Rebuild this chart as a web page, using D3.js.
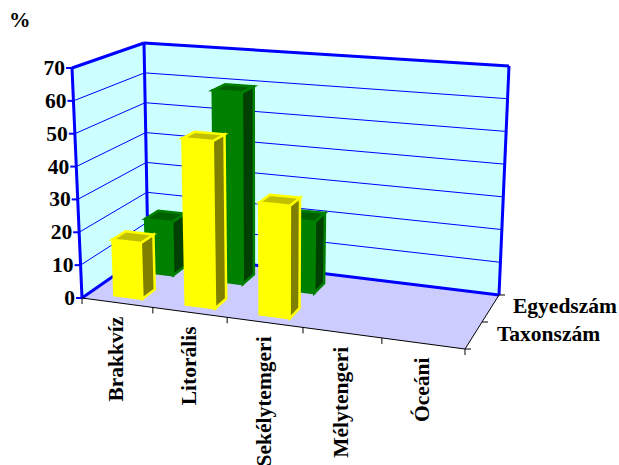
<!DOCTYPE html>
<html>
<head>
<meta charset="utf-8">
<script src="https://cdnjs.cloudflare.com/ajax/libs/d3/7.8.5/d3.min.js"></script>
<style>
html,body{margin:0;padding:0;background:#fff}
svg{display:block}
text{font-family:"Liberation Serif",serif;font-weight:bold;fill:#000}
</style>
</head>
<body>
<svg id="chart" width="619" height="465"></svg>
<script>
// Habitat share of taxa and individuals, drawn as a 3D column chart
const categories = ["Brakkvíz", "Litorális", "Sekélytemgeri", "Mélytengeri", "Óceáni"];
const seriesNames = ["Taxonszám", "Egyedszám"];
const taxonValues = [17, 50, 33, 0, 0];
const egyedValues = [17, 60, 22, 0, 0];
const valueTicks = [0, 10, 20, 30, 40, 50, 60, 70];

// Box corners on screen: [front/back][left/right][bottom/top]
const box = {
  flb: [82, 298], flt: [72, 68],
  frb: [465, 349], frt: [474, 97],
  blb: [148, 252], blt: [144, 43],
  brb: [499, 295], brt: [509, 66]
};

// Category spacing widens slightly towards the viewer's right
const uScale = d3.scaleLinear().domain([0, 1, 2, 3, 4, 5]).range([0, 0.185, 0.379, 0.577, 0.783, 1]);
const vScale = d3.scaleLinear().domain([0, 2]).range([0, 1]);
const hScale = d3.scaleLinear().domain([0, 70]).range([0, 1]);

const lerp = (a, b, t) => [a[0] + (b[0] - a[0]) * t, a[1] + (b[1] - a[1]) * t];
function project(cat, depth, value) {
  const u = uScale(cat), v = vScale(depth), h = hScale(value);
  const bottom = lerp(lerp(box.flb, box.frb, u), lerp(box.blb, box.brb, u), v);
  const top = lerp(lerp(box.flt, box.frt, u), lerp(box.blt, box.brt, u), v);
  return lerp(bottom, top, h);
}

const svg = d3.select("#chart");
const path = d3.line();
const poly = (g, pts, fill, stroke, w) => g.append("path")
  .attr("d", path(pts) + "Z").attr("fill", fill)
  .attr("stroke", stroke || "none").attr("stroke-width", w || 0)
  .attr("stroke-linejoin", "miter");
const seg = (g, a, b, stroke, w) => g.append("line")
  .attr("x1", a[0]).attr("y1", a[1]).attr("x2", b[0]).attr("y2", b[1])
  .attr("stroke", stroke).attr("stroke-width", w);

const BLUE = "#0000ff";
const walls = svg.append("g");
poly(walls, [box.blb, box.blt, box.brt, box.brb], "#ccffff");
poly(walls, [box.flb, box.flt, box.blt, box.blb], "#ccffff");
poly(walls, [box.flb, box.frb, box.brb, box.blb], "#ccccff");

// Value gridlines run along the left wall and the back wall
valueTicks.slice(1, -1).forEach(t => {
  seg(walls, project(0, 0, t), project(0, 2, t), BLUE, 1);
  seg(walls, project(0, 2, t), project(5, 2, t), BLUE, 1);
});

// Wall frame
const frame = [[box.flb, box.flt], [box.flt, box.blt], [box.blt, box.brt], [box.brt, box.brb],
  [box.brb, box.blb], [box.blb, box.blt], [box.blb, box.flb]];
frame.forEach(([a, b]) => seg(walls, a, b, BLUE, 3));

// Floor edges and ticks
const axes = svg.append("g");
seg(axes, box.flb, box.frb, "#000", 1);
seg(axes, box.frb, box.brb, "#000", 1);
d3.range(0, 6).forEach(i => {
  const p = project(i, 0, 0);
  seg(axes, p, [p[0], p[1] + 6], "#000", 1);
});
d3.range(0, 3).forEach(i => {
  const p = project(5, i, 0);
  seg(axes, p, [p[0] + 6, p[1]], "#000", 1);
});
valueTicks.forEach(t => {
  const p = project(0, 0, t);
  seg(axes, [p[0] - 6, p[1]], p, BLUE, 2);
});

// Columns: back row first so the front row overlaps it
const BAR_LO = 0.34, BAR_HI = 0.74;
function column(g, cat, row, value, c) {
  const d0 = row + 0.26, d1 = row + 0.66;
  const x0 = cat + BAR_LO, x1 = cat + BAR_HI;
  const A = project(x0, d0, 0), B = project(x1, d0, 0), C = project(x1, d1, 0);
  const E = project(x0, d0, value), F = project(x1, d0, value), G = project(x1, d1, value), H = project(x0, d1, value);
  poly(g, [A, B, F, E], c.front, c.front, 2.5);
  poly(g, [B, C, G, F], c.side, c.front, 2.5);
  poly(g, [E, F, G, H], c.top, c.front, 2.5);
}
const palettes = [
  { front: "#ffff00", side: "#808000", top: "#c0c000" },
  { front: "#008000", side: "#004000", top: "#006000" }
];
const bars = svg.append("g");
egyedValues.forEach((v, i) => { if (v > 0) column(bars, i, 1, v, palettes[1]); });
taxonValues.forEach((v, i) => { if (v > 0) column(bars, i, 0, v, palettes[0]); });

// Text
const FONT = 21.5;
const labels = svg.append("g");
valueTicks.forEach(t => {
  const p = project(0, 0, t);
  labels.append("text").attr("x", p[0] - 7).attr("y", p[1] + 7)
    .attr("text-anchor", "end").attr("font-size", FONT).text(t);
});
labels.append("text").attr("x", 9).attr("y", 27).attr("font-size", FONT).text("%");

categories.forEach((name, i) => {
  const p = project(i + 0.5, 0, 0);
  const x = p[0] + 6, y = p[1] + 14;
  labels.append("text")
    .attr("transform", `translate(${x},${y}) rotate(-90)`)
    .attr("text-anchor", "end").attr("font-size", FONT).text(name);
});

const eg = project(5, 2, 0), tx = project(5, 1, 0);
labels.append("text").attr("x", eg[0] + 14).attr("y", eg[1] + 18).attr("font-size", FONT).text(seriesNames[1]);
labels.append("text").attr("x", tx[0] + 15).attr("y", tx[1] + 19).attr("font-size", FONT).text(seriesNames[0]);
</script>
</body>
</html>
